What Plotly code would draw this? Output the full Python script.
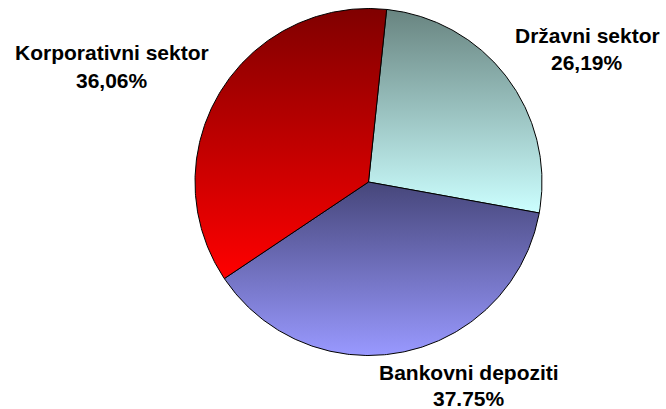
import numpy as np
import plotly.graph_objects as go

# ---- data ----
categories = ["Državni sektor", "Bankovni depoziti", "Korporativni sektor"]
values = [26.19, 37.75, 36.06]
value_labels = ["26,19%", "37.75%", "36,06%"]
top_colors = ["#688480", "#46467a", "#800000"]
bottom_colors = ["#ccffff", "#9999ff", "#ff0000"]

start_angle = 6.0  # degrees clockwise from 12 o'clock

fig = go.Figure()
total = sum(values)
ang = start_angle
for cat, v, tc, bc in zip(categories, values, top_colors, bottom_colors):
    sweep = 360.0 * v / total
    th = np.radians(np.linspace(ang, ang + sweep, 200))
    xs = np.concatenate([[0.0], np.sin(th), [0.0]])
    ys = np.concatenate([[0.0], np.cos(th), [0.0]])
    fig.add_trace(go.Scatter(
        x=xs, y=ys, mode="lines", fill="toself",
        line=dict(color="black", width=1),
        fillgradient=dict(type="vertical", colorscale=[[0, bc], [1, tc]]),
        hoverinfo="skip", showlegend=False, name=cat,
    ))
    ang += sweep

# label placement (pixel centre x, line-1 y, line-2 y)
label_pos = {
    "Državni sektor": (587, 35, 63),
    "Bankovni depoziti": (469, 372, 398),
    "Korporativni sektor": (112, 52, 80),
}
W, H = 666, 409
font = dict(family="Liberation Sans, Arial", size=21, color="black")
for cat, lab in zip(categories, value_labels):
    px, py1, py2 = label_pos[cat]
    for txt, py in ((cat, py1), (lab, py2)):
        fig.add_annotation(
            x=px / W, y=1 - py / H, xref="paper", yref="paper",
            text=f"<b>{txt}</b>", showarrow=False,
            xanchor="center", yanchor="middle", font=font,
        )

cx, cy, r = 368.5, 182.0, 173.5
fig.update_layout(
    width=W, height=H, margin=dict(l=0, r=0, t=0, b=0),
    paper_bgcolor="white", plot_bgcolor="white",
    xaxis=dict(range=[-cx / r, (W - cx) / r], visible=False, fixedrange=True),
    yaxis=dict(range=[-(H - cy) / r, cy / r], visible=False, fixedrange=True),
    showlegend=False,
)
fig.write_html("out.html")
